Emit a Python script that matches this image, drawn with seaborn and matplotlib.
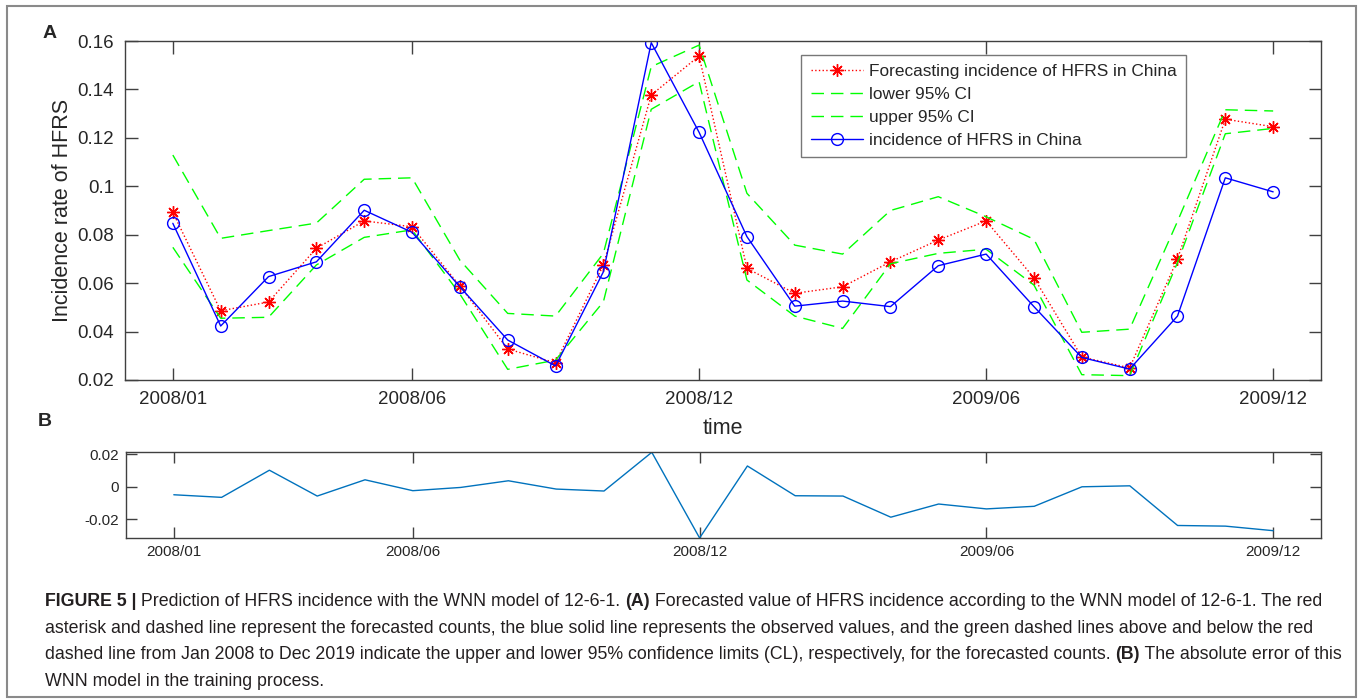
import matplotlib
matplotlib.use("Agg")
import matplotlib.pyplot as plt
import seaborn as sns
from matplotlib import font_manager
from matplotlib.patches import Rectangle

# === DATA ===
months = list(range(1, 25))
tick_pos = [1, 6, 12, 18, 24]
tick_labels = ["2008/01", "2008/06", "2008/12", "2009/06", "2009/12"]

observed = [0.0847, 0.0423, 0.0627, 0.0688, 0.0901, 0.0810, 0.0585, 0.0365,
            0.0258, 0.0647, 0.1593, 0.1223, 0.0792, 0.0505, 0.0526, 0.0503,
            0.0672, 0.0720, 0.0503, 0.0293, 0.0245, 0.0464, 0.1035, 0.0977]
forecast = [0.0892, 0.0486, 0.0522, 0.0744, 0.0857, 0.0833, 0.0588, 0.0328,
            0.0271, 0.0675, 0.1377, 0.1538, 0.0661, 0.0558, 0.0585, 0.0688,
            0.0778, 0.0857, 0.0622, 0.0295, 0.0250, 0.0700, 0.1277, 0.1246]
upper_ci = [0.1129, 0.0785, 0.0817, 0.0848, 0.1029, 0.1035, 0.0695, 0.0475,
            0.0464, 0.0723, 0.1494, 0.1583, 0.0971, 0.0757, 0.0720, 0.0900,
            0.0957, 0.0874, 0.0781, 0.0397, 0.0410, 0.0855, 0.1316, 0.1311]
lower_ci = [0.0748, 0.0455, 0.0459, 0.0675, 0.0789, 0.0820, 0.0555, 0.0244,
            0.0282, 0.0523, 0.1318, 0.1432, 0.0613, 0.0464, 0.0413, 0.0680,
            0.0723, 0.0740, 0.0592, 0.0222, 0.0218, 0.0685, 0.1217, 0.1239]
abs_error = [-0.0049, -0.0065, 0.0102, -0.0057, 0.0043, -0.0024, -0.0004, 0.0037,
             -0.0014, -0.0026, 0.0212, -0.0315, 0.0128, -0.0055, -0.0057, -0.0187,
             -0.0106, -0.0136, -0.0120, 0.0000, 0.0006, -0.0238, -0.0242, -0.0270]

a_yticks = [0.02, 0.04, 0.06, 0.08, 0.10, 0.12, 0.14, 0.16]
b_yticks = [-0.02, 0.0, 0.02]

caption_lines = [
    [("FIGURE 5 |", "bold"), (" Prediction of HFRS incidence with the WNN model of 12-6-1. ", "normal"),
     ("(A)", "bold"), (" Forecasted value of HFRS incidence according to the WNN model of 12-6-1. The red", "normal")],
    [("asterisk and dashed line represent the forecasted counts, the blue solid line represents the "
      "observed values, and the green dashed lines above and below the red", "normal")],
    [("dashed line from Jan 2008 to Dec 2019 indicate the upper and lower 95% confidence limits (CL), "
      "respectively, for the forecasted counts. ", "normal"), ("(B)", "bold"),
     (" The absolute error of this", "normal")],
    [("WNN model in the training process.", "normal")],
]

# === STYLE ===
sns.set_style("white")
plt.rcParams["font.family"] = ["Liberation Sans", "DejaVu Sans"]
axis_col = "#404040"
text_col = "#262626"

installed = {f.name for f in font_manager.fontManager.ttflist}
if "Liberation Sans Narrow" in installed:
    b_font, b_size = "Liberation Sans Narrow", 12.5
else:
    b_font, b_size = "Liberation Sans", 11

W, H = 1360, 699
fig = plt.figure(figsize=(W / 100, H / 100), dpi=100)


def frac(left, top, right, bottom):
    return [left / W, 1 - bottom / H, (right - left) / W, (bottom - top) / H]


def style_axes(ax, ticklen):
    for s in ax.spines.values():
        s.set_color(axis_col)
        s.set_linewidth(1.0)
    ax.tick_params(direction="in", length=ticklen, width=1.0, color=axis_col,
                   top=True, right=True, bottom=True, left=True)


# === PANEL A ===
axA = fig.add_axes(frac(125, 41, 1321, 380))
sns.lineplot(x=months, y=forecast, ax=axA, color="red", linestyle=":", linewidth=1.0,
             marker=(8, 2, 0), markersize=9, markeredgecolor="red", markeredgewidth=1.0,
             label="Forecasting incidence of HFRS in China")
sns.lineplot(x=months, y=lower_ci, ax=axA, color="#00FF00", linewidth=1.0,
             dashes=(9, 5), label="lower 95% CI")
sns.lineplot(x=months, y=upper_ci, ax=axA, color="#00FF00", linewidth=1.0,
             dashes=(9, 5), label="upper 95% CI")
sns.lineplot(x=months, y=observed, ax=axA, color="blue", linewidth=1.0,
             marker="o", markersize=8.5, markerfacecolor="none", markeredgecolor="blue",
             markeredgewidth=1.0, label="incidence of HFRS in China")

axA.set_xlim(0, 25)
axA.set_ylim(0.02, 0.16)
axA.set_xticks(tick_pos)
axA.set_xticklabels(tick_labels)
axA.set_yticks(a_yticks)
axA.set_yticklabels([f"{v:g}" for v in a_yticks])
style_axes(axA, 9)
axA.tick_params(labelsize=13.5, labelcolor=text_col, pad=8)
axA.set_xlabel("time", fontsize=15.5, color=text_col, labelpad=7)
axA.set_ylabel("Incidence rate of HFRS", fontsize=15.5, color=text_col, labelpad=3)

leg = axA.legend(loc="upper right", bbox_to_anchor=(0.887, 0.959), borderaxespad=0,
                 fontsize=12.4, frameon=True, fancybox=False, handlelength=3.0,
                 handletextpad=0.35, labelspacing=0.45, borderpad=0.55)
leg.get_frame().set_edgecolor("#555555")
leg.get_frame().set_linewidth(1.0)
for t in leg.get_texts():
    t.set_color(text_col)

# === PANEL B ===
axB = fig.add_axes(frac(126, 452, 1321, 538))
sns.lineplot(x=months, y=abs_error, ax=axB, color="#0072BD", linewidth=1.0)
axB.set_xlim(0, 25)
axB.set_ylim(min(abs_error), max(abs_error) + 0.0002)
axB.set_xticks(tick_pos)
axB.set_xticklabels(tick_labels)
axB.set_yticks(b_yticks)
axB.set_yticklabels([f"{v:g}" for v in b_yticks])
style_axes(axB, 8)
axB.tick_params(labelcolor=text_col, pad=5)
for lab in axB.get_xticklabels() + axB.get_yticklabels():
    lab.set_fontfamily(b_font)
    lab.set_fontsize(b_size)

# panel letters
fig.text(50 / W, 1 - 34 / H, "A", fontsize=14, fontweight="bold", ha="center", va="center")
fig.text(45 / W, 1 - 421 / H, "B", fontsize=14, fontweight="bold", ha="center", va="center")

# outer frame
fig.patches.append(Rectangle((7 / W, 1 - 697 / H), (1356 - 7) / W, (697 - 6) / H,
                             transform=fig.transFigure, fill=False,
                             edgecolor="#8a8a8a", linewidth=1.5))

# caption: mixed bold / regular runs chained one after another
cap_size = 12.8
cap_y = [606, 633, 659, 686]
for line, y in zip(caption_lines, cap_y):
    prev = None
    for txt, weight in line:
        if prev is None:
            prev = fig.text(45 / W, 1 - y / H, txt, fontsize=cap_size, fontweight=weight,
                            color="#231f20", va="baseline", ha="left")
        else:
            prev = axA.annotate(txt, xy=(1, 0), xycoords=prev, va="bottom", ha="left",
                                fontsize=cap_size, fontweight=weight, color="#231f20",
                                annotation_clip=False)

fig.savefig("out.png", dpi=100)
